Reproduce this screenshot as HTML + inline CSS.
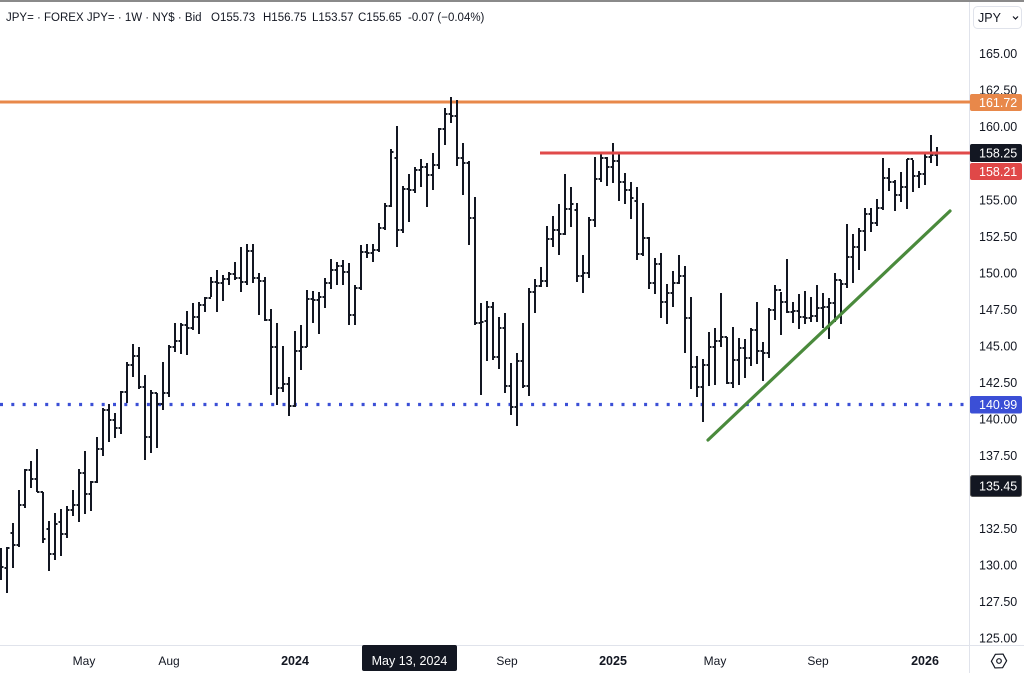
<!DOCTYPE html>
<html><head><meta charset="utf-8"><style>
html,body{margin:0;padding:0;background:#fff;}
body{width:1024px;height:673px;overflow:hidden;position:relative;font-family:"Liberation Sans",sans-serif;}
svg{position:absolute;left:0;top:0;}
</style></head><body>
<svg width="1024" height="673" viewBox="0 0 1024 673" xmlns="http://www.w3.org/2000/svg">
<rect x="0" y="0" width="1024" height="673" fill="#fff"/>
<line x1="0" y1="1" x2="1024" y2="1" stroke="#8a8a8a" stroke-width="2"/>
<line x1="969.5" y1="2" x2="969.5" y2="673" stroke="#e0e3eb" stroke-width="1"/>
<line x1="0" y1="645.5" x2="1024" y2="645.5" stroke="#e0e3eb" stroke-width="1"/>

<g font-size="11.5" fill="#131722" font-family="Liberation Sans, sans-serif">
<text x="6" y="21">JPY= · FOREX JPY= · 1W · NY$ · Bid</text>
<text x="211" y="21">O155.73</text>
<text x="263" y="21">H156.75</text>
<text x="312" y="21">L153.57</text>
<text x="358" y="21">C155.65</text>
<text x="408" y="21">-0.07 (−0.04%)</text>
</g>

<line x1="0" y1="102" x2="970" y2="102" stroke="#e8884a" stroke-width="3"/>
<line x1="0" y1="404.5" x2="964" y2="404.5" stroke="#3b4fd6" stroke-width="3.3" stroke-dasharray="3 8.3"/>

<g fill="none" stroke="#131722" stroke-width="2">
<path d="M1 548V580M7 547V593M13 523V568M19 490V547M25 469V508M31 461V488M37 449V492M43 492V543M49 521V571M55 513V560M61 509V556M67 506V538M73 490V516M79 469V522M85 451V514M91 481V511M97 437V483M103 408V456M109 404V442M115 413V438M121 391V434M127 362V403M133 344V377M139 347V389M145 375V460M151 390V453M157 393V448M163 362V410M169 345V397M175 323V352M181 323V354M187 311V355M193 303V330M199 302V334M205 297V312M211 277V297M217 270V312M223 275V301M229 272V285M235 262V280M241 247V292M247 244V285M253 244V283M259 273V315M265 277V321M271 309V395M277 323V405M283 346V392M289 377V416M295 331V407M301 325V370M307 290V347M313 291V323M319 292V334M325 278V308M331 259V289M337 262V285M343 260V285M349 263V325M355 285V325M361 245V290M367 244V258M373 244V262M379 223V252M385 203V230M391 149V207M397 126V247M403 186V233M409 174V222M415 167V193M421 159V187M427 163V207M433 153V190M439 128V169M445 108V145M451 97V123M457 100V166M463 143V195M469 161V245M475 197V325M481 303V395M487 301V361M493 302V360M499 317V369M505 313V393M511 363V415M517 353V426M523 323V388M529 288V396M535 279V313M541 267V287M547 226V287M553 216V247M559 204V255M565 174V235M571 187V227M577 203V282M583 255V293M589 217V278M595 157V227M601 154V182M607 157V186M613 143V183M619 153V201M625 173V204M631 182V219M637 187V260M643 203V256M649 237V289M655 258V294M661 253V318M667 284V324M673 271V307M679 255V284M685 266V353M691 297V389M697 356V397M703 359V422M709 332V386M715 328V385M721 293V347M727 337V384M733 327V388M739 338V385M745 339V378M751 328V366M757 302V364M763 342V381M769 308V358M775 285V320M781 292V335M787 259V313M793 302V323M799 294V329M805 291V324M811 297V322M817 285V322M823 293V328M829 298V339M835 273V322M841 280V324M847 224V288M853 234V283M859 228V270M865 208V251M871 208V232M877 199V226M883 158V210M889 168V191M895 180V211M901 172V202M907 159V209M913 160V192M919 171V188M925 154V185M931 135V163M937 147V166"/>
<path d="M-1.5 555h2.5M4.5 568h2.5M10.5 533h2.5M16.5 545h2.5M22.5 505h2.5M28.5 470h2.5M34.5 479h2.5M40.5 492h2.5M46.5 529h2.5M52.5 554h2.5M58.5 522h2.5M64.5 534h2.5M70.5 510h2.5M76.5 505h2.5M82.5 473h2.5M88.5 494h2.5M94.5 482h2.5M100.5 449h2.5M106.5 410h2.5M112.5 420h2.5M118.5 428h2.5M124.5 392h2.5M130.5 365h2.5M136.5 356h2.5M142.5 387h2.5M148.5 437h2.5M154.5 393h2.5M160.5 404h2.5M166.5 393h2.5M172.5 347h2.5M178.5 341h2.5M184.5 325h2.5M190.5 328h2.5M196.5 317h2.5M202.5 305h2.5M208.5 298h2.5M214.5 282h2.5M220.5 283h2.5M226.5 279h2.5M232.5 274h2.5M238.5 278h2.5M244.5 282h2.5M250.5 251h2.5M256.5 278h2.5M262.5 281h2.5M268.5 320h2.5M274.5 347h2.5M280.5 388h2.5M286.5 384h2.5M292.5 406h2.5M298.5 351h2.5M304.5 347h2.5M310.5 299h2.5M316.5 300h2.5M322.5 297h2.5M328.5 283h2.5M334.5 270h2.5M340.5 266h2.5M346.5 272h2.5M352.5 315h2.5M358.5 288h2.5M364.5 252h2.5M370.5 253h2.5M376.5 250h2.5M382.5 228h2.5M388.5 206h2.5M394.5 158h2.5M400.5 230h2.5M406.5 189h2.5M412.5 190h2.5M418.5 170h2.5M424.5 167h2.5M430.5 175h2.5M436.5 165h2.5M442.5 129h2.5M448.5 114h2.5M454.5 116h2.5M460.5 158h2.5M466.5 163h2.5M472.5 218h2.5M478.5 323h2.5M484.5 321h2.5M490.5 307h2.5M496.5 357h2.5M502.5 328h2.5M508.5 386h2.5M514.5 407h2.5M520.5 361h2.5M526.5 386h2.5M532.5 292h2.5M538.5 286h2.5M544.5 281h2.5M550.5 239h2.5M556.5 230h2.5M562.5 234h2.5M568.5 209h2.5M574.5 210h2.5M580.5 276h2.5M586.5 273h2.5M592.5 220h2.5M598.5 179h2.5M604.5 158h2.5M610.5 167h2.5M616.5 161h2.5M622.5 182h2.5M628.5 190h2.5M634.5 201h2.5M640.5 254h2.5M646.5 238h2.5M652.5 283h2.5M658.5 264h2.5M664.5 302h2.5M670.5 293h2.5M676.5 283h2.5M682.5 276h2.5M688.5 318h2.5M694.5 367h2.5M700.5 387h2.5M706.5 365h2.5M712.5 347h2.5M718.5 341h2.5M724.5 337h2.5M730.5 383h2.5M736.5 360h2.5M742.5 348h2.5M748.5 358h2.5M754.5 330h2.5M760.5 351h2.5M766.5 353h2.5M772.5 310h2.5M778.5 290h2.5M784.5 302h2.5M790.5 312h2.5M796.5 311h2.5M802.5 317h2.5M808.5 318h2.5M814.5 316h2.5M820.5 308h2.5M826.5 307h2.5M832.5 303h2.5M838.5 280h2.5M844.5 284h2.5M850.5 257h2.5M856.5 247h2.5M862.5 231h2.5M868.5 214h2.5M874.5 223h2.5M880.5 208h2.5M886.5 178h2.5M892.5 182h2.5M898.5 195h2.5M904.5 187h2.5M910.5 159h2.5M916.5 176h2.5M922.5 174h2.5M928.5 157h2.5M934.5 155h2.5"/>
<path d="M1 567h2.5M7 548h2.5M13 545h2.5M19 505h2.5M25 470h2.5M31 479h2.5M37 492h2.5M43 539h2.5M49 554h2.5M55 524h2.5M61 534h2.5M67 510h2.5M73 505h2.5M79 473h2.5M85 494h2.5M91 482h2.5M97 449h2.5M103 410h2.5M109 420h2.5M115 428h2.5M121 392h2.5M127 365h2.5M133 356h2.5M139 387h2.5M145 437h2.5M151 393h2.5M157 404h2.5M163 393h2.5M169 347h2.5M175 341h2.5M181 325h2.5M187 328h2.5M193 317h2.5M199 305h2.5M205 298h2.5M211 282h2.5M217 283h2.5M223 279h2.5M229 274h2.5M235 278h2.5M241 282h2.5M247 251h2.5M253 278h2.5M259 281h2.5M265 320h2.5M271 347h2.5M277 388h2.5M283 384h2.5M289 406h2.5M295 351h2.5M301 347h2.5M307 299h2.5M313 300h2.5M319 297h2.5M325 283h2.5M331 270h2.5M337 266h2.5M343 272h2.5M349 315h2.5M355 288h2.5M361 252h2.5M367 253h2.5M373 250h2.5M379 228h2.5M385 206h2.5M391 152h2.5M397 230h2.5M403 189h2.5M409 190h2.5M415 170h2.5M421 167h2.5M427 175h2.5M433 165h2.5M439 129h2.5M445 114h2.5M451 116h2.5M457 158h2.5M463 163h2.5M469 218h2.5M475 323h2.5M481 322h2.5M487 307h2.5M493 357h2.5M499 328h2.5M505 386h2.5M511 407h2.5M517 361h2.5M523 386h2.5M529 292h2.5M535 286h2.5M541 281h2.5M547 239h2.5M553 230h2.5M559 234h2.5M565 209h2.5M571 204h2.5M577 276h2.5M583 273h2.5M589 220h2.5M595 179h2.5M601 158h2.5M607 167h2.5M613 161h2.5M619 182h2.5M625 190h2.5M631 198h2.5M637 254h2.5M643 238h2.5M649 283h2.5M655 264h2.5M661 302h2.5M667 293h2.5M673 283h2.5M679 276h2.5M685 318h2.5M691 367h2.5M697 387h2.5M703 365h2.5M709 347h2.5M715 341h2.5M721 337h2.5M727 383h2.5M733 360h2.5M739 348h2.5M745 358h2.5M751 330h2.5M757 351h2.5M763 353h2.5M769 310h2.5M775 290h2.5M781 302h2.5M787 312h2.5M793 311h2.5M799 317h2.5M805 318h2.5M811 316h2.5M817 308h2.5M823 307h2.5M829 303h2.5M835 280h2.5M841 284h2.5M847 257h2.5M853 247h2.5M859 231h2.5M865 214h2.5M871 223h2.5M877 208h2.5M883 178h2.5M889 182h2.5M895 195h2.5M901 187h2.5M907 159h2.5M913 176h2.5M919 174h2.5M925 157h2.5M931 155h2.5M937 153h2.5"/>
</g>

<line x1="540" y1="153" x2="970" y2="153" stroke="#e04a4a" stroke-width="3"/>
<line x1="708" y1="440" x2="950" y2="211" stroke="#4a8a3c" stroke-width="3.2" stroke-linecap="round"/>

<g font-size="12.5" fill="#131722" font-family="Liberation Sans, sans-serif">
<text x="979" y="58">165.00</text>
<text x="979" y="94.5">162.50</text>
<text x="979" y="131">160.00</text>
<text x="979" y="204.5">155.00</text>
<text x="979" y="241">152.50</text>
<text x="979" y="277.5">150.00</text>
<text x="979" y="314">147.50</text>
<text x="979" y="350.5">145.00</text>
<text x="979" y="387">142.50</text>
<text x="979" y="423.5">140.00</text>
<text x="979" y="460">137.50</text>
<text x="979" y="533">132.50</text>
<text x="979" y="569.5">130.00</text>
<text x="979" y="606">127.50</text>
<text x="979" y="642.5">125.00</text>
</g>

<rect x="970" y="94" width="52" height="17" rx="2" fill="#e8884a"/>
<rect x="970" y="144" width="52" height="18" rx="2" fill="#131722"/>
<rect x="970" y="163" width="52" height="17" rx="2" fill="#e04848"/>
<rect x="970" y="396" width="52" height="17.5" rx="2" fill="#3b4fd6"/>
<rect x="970.5" y="475.5" width="51" height="21" rx="2" fill="#131722" stroke="#555" stroke-width="1"/>
<g font-size="12.5" fill="#fff" font-family="Liberation Sans, sans-serif">
<text x="979" y="107">161.72</text>
<text x="979" y="157.5">158.25</text>
<text x="979" y="176">158.21</text>
<text x="979" y="409">140.99</text>
<text x="979" y="490.5">135.45</text>
</g>

<rect x="973.5" y="6.5" width="48" height="22" rx="4" fill="#fff" stroke="#e0e3eb" stroke-width="1"/>
<text x="978" y="22" font-size="12.5" fill="#131722" font-family="Liberation Sans, sans-serif">JPY</text>
<path d="M1013 16.5l2.5 2.5 2.5-2.5" fill="none" stroke="#131722" stroke-width="1.2"/>

<g font-size="12" fill="#131722" font-family="Liberation Sans, sans-serif" text-anchor="middle">
<text x="84" y="665">May</text>
<text x="169" y="665">Aug</text>
<text x="295" y="665" font-weight="bold" font-size="12.5">2024</text>
<text x="507" y="665">Sep</text>
<text x="613" y="665" font-weight="bold" font-size="12.5">2025</text>
<text x="715" y="665">May</text>
<text x="818" y="665">Sep</text>
<text x="925" y="665" font-weight="bold" font-size="12.5">2026</text>
</g>
<rect x="362" y="645" width="95" height="26" rx="2" fill="#131722"/>
<text x="409.5" y="665" font-size="12.5" fill="#fff" text-anchor="middle" font-family="Liberation Sans, sans-serif">May 13, 2024</text>

<polygon points="999,653 1005.5,657 1005.5,665 999,669 992.5,665 992.5,657" fill="none" stroke="#131722" stroke-width="1.2" transform="rotate(30 999 661)"/>
<circle cx="999" cy="661" r="2.3" fill="none" stroke="#131722" stroke-width="1.2"/>
</svg>
</body></html>
